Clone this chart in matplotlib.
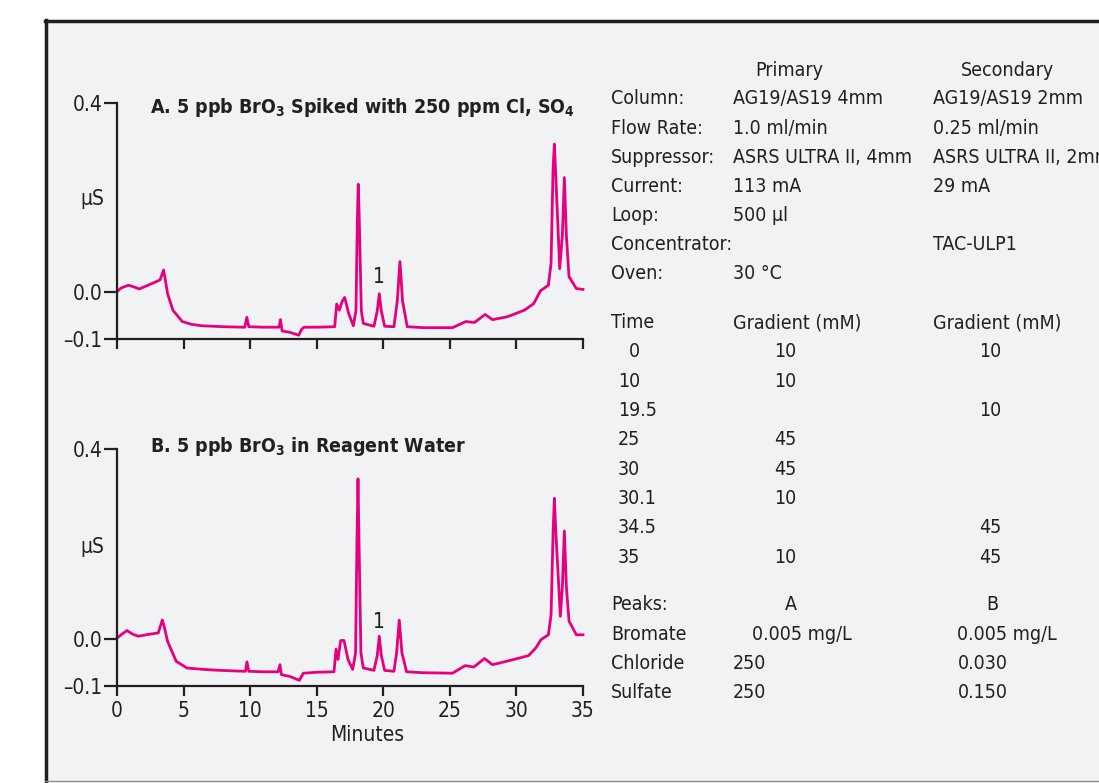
import numpy as np
import matplotlib
matplotlib.use('Agg')
from matplotlib import pyplot as plt
from matplotlib.patches import Rectangle
from matplotlib.lines import Line2D

plt.rcParams['font.family'] = ['DejaVu Sans']
plt.rcParams['font.stretch'] = 'condensed'
plt.rcParams['mathtext.fontset'] = 'dejavusans'

# Chromatogram A: 5 ppb bromate spiked with 250 ppm chloride / sulfate
time_a = [0.0, 0.3, 0.86, 1.3, 1.67, 2.5, 3.23, 3.4, 3.5, 3.6, 3.8, 4.2, 4.9, 5.6, 6.4, 8.0,
          9.6, 9.75, 9.9, 11.0, 12.17, 12.28, 12.4, 13.0, 13.65, 13.85, 14.05, 15.0, 16.35, 16.5,
          16.7, 16.9, 17.1, 17.4, 17.75, 17.95, 18.05, 18.12, 18.2, 18.35, 18.5, 19.3, 19.55, 19.7,
          19.85, 20.1, 20.8, 21.05, 21.25, 21.45, 21.8, 23.0, 25.2, 26.2, 26.85, 27.65, 28.2, 29.3,
          30.6, 31.3, 31.8, 32.4, 32.6, 32.75, 32.85, 32.95, 33.25, 33.45, 33.6, 33.75, 33.95, 34.5, 35.0]
signal_a = [0.0, 0.008, 0.014, 0.010, 0.006, 0.016, 0.025, 0.038, 0.046, 0.030, -0.004, -0.039,
            -0.063, -0.069, -0.072, -0.074, -0.075, -0.054, -0.074, -0.075, -0.075, -0.059, -0.083,
            -0.086, -0.092, -0.080, -0.075, -0.075, -0.074, -0.026, -0.039, -0.021, -0.012, -0.046,
            -0.072, -0.040, 0.150, 0.228, 0.150, -0.040, -0.067, -0.073, -0.040, -0.004, -0.040,
            -0.073, -0.074, -0.020, 0.064, -0.020, -0.074, -0.076, -0.076, -0.063, -0.065, -0.048,
            -0.059, -0.053, -0.039, -0.025, 0.002, 0.014, 0.060, 0.260, 0.313, 0.250, 0.049, 0.120,
            0.242, 0.120, 0.032, 0.007, 0.005]

# Chromatogram B: 5 ppb bromate in reagent water
time_b = [0.0, 0.3, 0.75, 1.2, 1.6, 2.4, 3.1, 3.3, 3.4, 3.55, 3.8, 4.45, 5.25, 6.5, 7.7, 9.65,
          9.76, 9.9, 11.0, 12.1, 12.24, 12.35, 13.0, 13.7, 13.85, 14.0, 15.0, 16.3, 16.45, 16.6,
          16.8, 17.05, 17.35, 17.7, 17.92, 18.02, 18.1, 18.18, 18.32, 18.5, 19.3, 19.55, 19.7,
          19.85, 20.1, 20.8, 21.0, 21.2, 21.4, 21.75, 23.0, 25.2, 26.15, 26.8, 27.6, 28.2, 29.25,
          30.9, 31.45, 31.85, 32.4, 32.6, 32.75, 32.85, 32.95, 33.3, 33.45, 33.6, 33.75, 33.95, 34.5, 35.0]
signal_b = [0.001, 0.008, 0.017, 0.009, 0.005, 0.009, 0.012, 0.030, 0.039, 0.025, -0.006, -0.048,
            -0.062, -0.065, -0.067, -0.069, -0.049, -0.069, -0.070, -0.070, -0.055, -0.076, -0.080,
            -0.088, -0.080, -0.073, -0.071, -0.070, -0.022, -0.044, -0.004, -0.004, -0.044, -0.065,
            -0.030, 0.200, 0.337, 0.200, -0.030, -0.062, -0.067, -0.035, 0.005, -0.035, -0.067,
            -0.069, -0.030, 0.039, -0.030, -0.070, -0.072, -0.073, -0.057, -0.060, -0.042, -0.055,
            -0.048, -0.036, -0.020, -0.002, 0.008, 0.050, 0.220, 0.296, 0.230, 0.047, 0.110, 0.227,
            0.110, 0.037, 0.008, 0.008]

peak1_a = (19.7, 0.032)
peak1_b = (19.7, 0.036)

yticks = [-0.1, 0.0, 0.4]
ytick_labels = ['\u20130.1', '0.0', '0.4']
xticks = [0, 5, 10, 15, 20, 25, 30, 35]

# Method conditions table (label, primary, secondary)
cond_rows = [('Column:', 'AG19/AS19 4mm', 'AG19/AS19 2mm'),
             ('Flow Rate:', '1.0 ml/min', '0.25 ml/min'),
             ('Suppressor:', 'ASRS ULTRA II, 4mm', 'ASRS ULTRA II, 2mm'),
             ('Current:', '113 mA', '29 mA'),
             ('Loop:', '500 \u03bcl', ''),
             ('Concentrator:', '', 'TAC-ULP1'),
             ('Oven:', '30 \u00b0C', '')]
grad_times = ['0', '10', '19.5', '25', '30', '30.1', '34.5', '35']
grad_primary = ['10', '10', '', '45', '45', '10', '', '10']
grad_secondary = ['10', '', '10', '', '', '', '45', '45']
peak_names = ['Bromate', 'Chloride', 'Sulfate']
peak_conc_a = ['0.005 mg/L', '250', '250']
peak_conc_b = ['0.005 mg/L', '0.030', '0.150']

W, H = 1099, 783
line_color = '#e6007e'
text_color = '#231f20'
fs = 14

fig = plt.figure(figsize=(W / 100, H / 100), dpi=100)
fig.patch.set_facecolor('white')

# gray panel with black frame
fx = lambda px: px / W
fy = lambda py: 1 - py / H
fig.add_artist(Rectangle((fx(46), fy(781)), 1.0, fy(21) - fy(781), transform=fig.transFigure,
                         facecolor='#f1f2f4', edgecolor='none', zorder=0))
fig.add_artist(Line2D([fx(46), fx(46)], [fy(781), fy(20)], transform=fig.transFigure,
                      color='#231f20', lw=2.5))
fig.add_artist(Line2D([fx(45), 1.0], [fy(21), fy(21)], transform=fig.transFigure,
                      color='#231f20', lw=2.5))
fig.add_artist(Line2D([fx(45), 1.0], [fy(781), fy(781)], transform=fig.transFigure,
                      color='#8a8a8a', lw=1.0))


def setup_axes(top_px, bottom_px):
    ax = fig.add_axes([fx(117), fy(bottom_px), (583 - 117) / W, (bottom_px - top_px) / H])
    ax.set_facecolor('none')
    ax.set_xlim(0, 35)
    ax.set_ylim(-0.1, 0.4)
    for s in ['top', 'right']:
        ax.spines[s].set_visible(False)
    for s in ['left', 'bottom']:
        ax.spines[s].set_linewidth(1.6)
        ax.spines[s].set_color(text_color)
    ax.set_yticks(yticks)
    ax.set_yticklabels(ytick_labels)
    ax.set_xticks(xticks)
    ax.tick_params(axis='y', direction='out', length=9.5, width=1.6, pad=1,
                   labelsize=fs + 1, colors=text_color)
    ax.tick_params(axis='x', direction='out', length=7, width=1.6, pad=4,
                   labelsize=fs + 1, colors=text_color)
    return ax


ax_a = setup_axes(103, 339)
ax_a.plot(time_a, signal_a, color=line_color, lw=2.0, solid_joinstyle='round', clip_on=False)
ax_a.set_xticklabels([])
ax_a.text(peak1_a[0], peak1_a[1], '1', ha='center', va='center', fontsize=fs + 1, color=text_color)
ax_a.text(2.5, 0.39, 'A. 5 ppb BrO$_{\\mathbf{3}}$ Spiked with 250 ppm Cl, SO$_{\\mathbf{4}}$',
          fontsize=fs, fontweight='bold', color=text_color, va='center', ha='left')

ax_b = setup_axes(449, 686)
ax_b.plot(time_b, signal_b, color=line_color, lw=2.0, solid_joinstyle='round', clip_on=False)
ax_b.text(peak1_b[0], peak1_b[1], '1', ha='center', va='center', fontsize=fs + 1, color=text_color)
ax_b.text(2.5, 0.405, 'B. 5 ppb BrO$_{\\mathbf{3}}$ in Reagent Water',
          fontsize=fs, fontweight='bold', color=text_color, va='center', ha='left')

fig.text(fx(92), fy(199), '\u03bcS', ha='center', va='center', fontsize=fs + 1, color=text_color)
fig.text(fx(92), fy(547), '\u03bcS', ha='center', va='center', fontsize=fs + 1, color=text_color)
fig.text(fx(367), fy(735), 'Minutes', ha='center', va='center', fontsize=fs + 1, color=text_color)


def put(px, py, s, ha='left'):
    fig.text(fx(px), fy(py), s, ha=ha, va='center', fontsize=fs, color=text_color)


# conditions
put(789, 70, 'Primary', ha='center')
put(1007, 70, 'Secondary', ha='center')
for i, (lab, p, s) in enumerate(cond_rows):
    y = 99 + 29.1 * i
    put(611, y, lab)
    put(733, y, p)
    put(933, y, s)

# gradient program
put(611, 323, 'Time')
put(733, 323, 'Gradient (mM)')
put(933, 323, 'Gradient (mM)')
for i, (t, p, s) in enumerate(zip(grad_times, grad_primary, grad_secondary)):
    y = 352 + 29.3 * i
    put(629 if t == '0' else 618, y, t)
    put(785, y, p, ha='center')
    put(990, y, s, ha='center')

# peaks
put(611, 605, 'Peaks:')
put(791, 605, 'A', ha='center')
put(992, 605, 'B', ha='center')
for i, (n, a, b) in enumerate(zip(peak_names, peak_conc_a, peak_conc_b)):
    y = 634 + 29.3 * i
    put(611, y, n)
    if i == 0:
        put(802, y, a, ha='center')
        put(1007, y, b, ha='center')
    else:
        put(733, y, a)
        put(958, y, b)

plt.savefig('out.png', dpi=100, facecolor=fig.get_facecolor())
